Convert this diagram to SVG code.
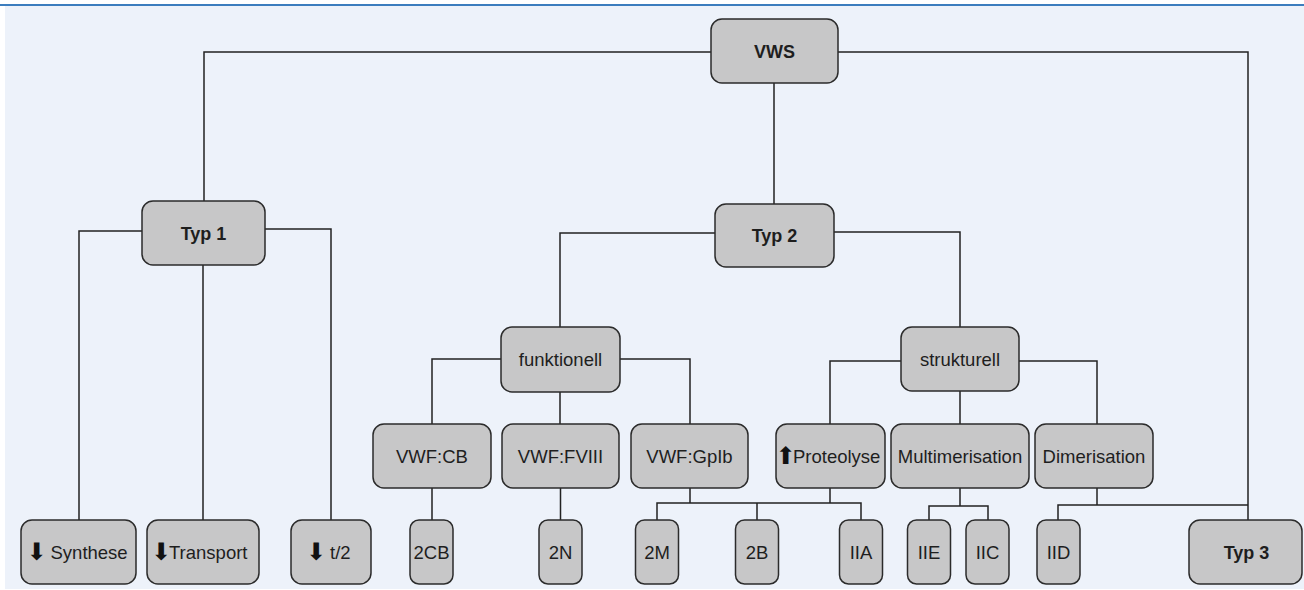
<svg xmlns="http://www.w3.org/2000/svg" width="1304" height="590" viewBox="0 0 1304 590">
<style>
.bg{fill:#EDF2FA}
.n rect{fill:#C7C7C8;stroke:#2B2B2B;stroke-width:1.5}
.n text{font-family:"Liberation Sans",Arial,sans-serif;font-size:18.5px;fill:#1E1E1E;text-anchor:middle}
.n text.b{font-weight:bold;font-size:18px}
.n text.l{text-anchor:start}
.n text.arr{font-family:"DejaVu Sans",sans-serif;font-size:24px;fill:#111;text-anchor:middle}
#connectors path{fill:none;stroke:#222;stroke-width:1.5}
</style>
<rect x="0" y="0" width="1304" height="590" fill="#FFFFFF"/>
<rect class="bg" x="5" y="5" width="1299" height="584"/>
<rect x="0" y="4" width="1304" height="2" fill="#3C7DBE"/>
<g id="connectors">
<path d="M711 52H204V201M838 52H1248V520M774 83V204"/>
<path d="M142 231H79V520M203 265V520M265 229H331V520"/>
<path d="M715 233H560V327M834 232H960V327"/>
<path d="M501 359H432V424M560 392V424M620 359H690V424"/>
<path d="M901 361H830V424M960 391V424M1019 361H1097V424"/>
<path d="M432 488V520M560.5 488V520"/>
<path d="M690 488V503M830 488V503M657 520V503H861V520M757 503V520"/>
<path d="M960 488V506M929 520V506H988V520"/>
<path d="M1097 488V505M1058 520V505H1248"/>
</g>
<g id="n-vws" class="n"><rect x="711" y="19" width="127" height="64" rx="11"/><text class="b" x="774.5" y="58">VWS</text></g>
<g id="n-typ1" class="n"><rect x="142" y="201" width="123" height="64" rx="11"/><text class="b" x="203.5" y="239.5">Typ 1</text></g>
<g id="n-typ2" class="n"><rect x="715" y="204" width="119" height="63" rx="11"/><text class="b" x="774.5" y="242">Typ 2</text></g>
<g id="n-funktionell" class="n"><rect x="501" y="327" width="119" height="65" rx="11"/><text x="560.5" y="366">funktionell</text></g>
<g id="n-strukturell" class="n"><rect x="901" y="327" width="118" height="64" rx="11"/><text x="960" y="365.5">strukturell</text></g>
<g id="n-vwfcb" class="n"><rect x="373" y="424" width="118" height="64" rx="11"/><text x="432" y="462.5">VWF:CB</text></g>
<g id="n-vwffviii" class="n"><rect x="502" y="424" width="117" height="64" rx="11"/><text x="560.5" y="462.5">VWF:FVIII</text></g>
<g id="n-vwfgpib" class="n"><rect x="631" y="424" width="117" height="64" rx="11"/><text x="689.5" y="462.5">VWF:GpIb</text></g>
<g id="n-proteolyse" class="n"><rect x="776" y="424" width="109" height="64" rx="11"/><text class="arr" x="785.5" y="463.5">⬆</text><text class="l" x="793" y="462.5">Proteolyse</text></g>
<g id="n-multimerisation" class="n"><rect x="891" y="424" width="138" height="64" rx="11"/><text x="960" y="462.5">Multimerisation</text></g>
<g id="n-dimerisation" class="n"><rect x="1035" y="424" width="118" height="64" rx="11"/><text x="1094" y="462.5">Dimerisation</text></g>
<g id="n-synthese" class="n"><rect x="21" y="520" width="115" height="64" rx="11"/><text class="arr" x="36.5" y="559.5">⬇</text><text class="l" x="50.5" y="558.5">Synthese</text></g>
<g id="n-transport" class="n"><rect x="147" y="520" width="112" height="64" rx="11"/><text class="arr" x="161" y="559.5">⬇</text><text class="l" x="169" y="558.5">Transport</text></g>
<g id="n-t2" class="n"><rect x="291" y="520" width="80" height="64" rx="11"/><text class="arr" x="316" y="559.5">⬇</text><text class="l" x="330" y="558.5">t/2</text></g>
<g id="n-2cb" class="n"><rect x="410" y="520" width="43" height="64" rx="9"/><text x="431.5" y="558.5">2CB</text></g>
<g id="n-2n" class="n"><rect x="539" y="520" width="43" height="64" rx="9"/><text x="560.5" y="558.5">2N</text></g>
<g id="n-2m" class="n"><rect x="635.5" y="520" width="43" height="64" rx="9"/><text x="657" y="558.5">2M</text></g>
<g id="n-2b" class="n"><rect x="735.5" y="520" width="43" height="64" rx="9"/><text x="757" y="558.5">2B</text></g>
<g id="n-iia" class="n"><rect x="839.5" y="520" width="43" height="64" rx="9"/><text x="861" y="558.5">IIA</text></g>
<g id="n-iie" class="n"><rect x="907.5" y="520" width="43" height="64" rx="9"/><text x="929" y="558.5">IIE</text></g>
<g id="n-iic" class="n"><rect x="966" y="520" width="43" height="64" rx="9"/><text x="987.5" y="558.5">IIC</text></g>
<g id="n-iid" class="n"><rect x="1037" y="520" width="43" height="64" rx="9"/><text x="1058.5" y="558.5">IID</text></g>
<g id="n-typ3" class="n"><rect x="1189" y="520" width="113" height="64" rx="11"/><text class="b" x="1246.5" y="558.5">Typ 3</text></g>
</svg>
